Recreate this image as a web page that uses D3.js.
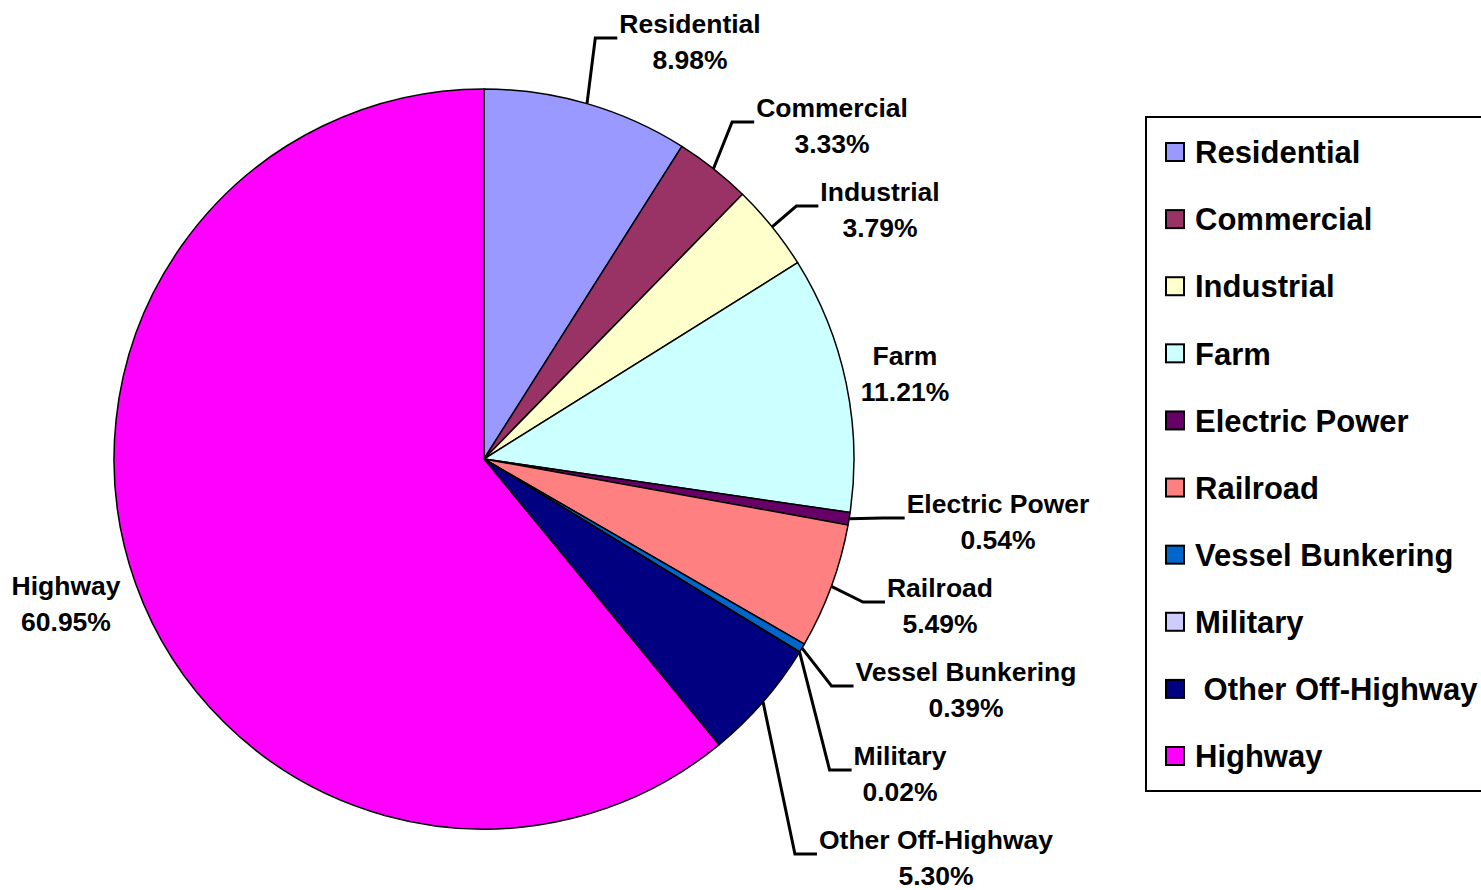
<!DOCTYPE html>
<html>
<head>
<meta charset="utf-8">
<script src="https://cdn.jsdelivr.net/npm/d3@7"></script>
<style>
  body { margin: 0; background: #fff; }
  svg { display: block; font-family: "Liberation Sans", Arial, sans-serif; font-weight: bold; }
</style>
</head>
<body>
<div id="chart"></div>
<script>
const categories = ["Residential", "Commercial", "Industrial", "Farm", "Electric Power",
  "Railroad", "Vessel Bunkering", "Military", "Other Off-Highway", "Highway"];
const shares = [8.98, 3.33, 3.79, 11.21, 0.54, 5.49, 0.39, 0.02, 5.30, 60.95];
const colors = ["#9999FF", "#993366", "#FFFFCC", "#CCFFFF", "#660066",
  "#FF8080", "#0066CC", "#CCCCFF", "#000080", "#FF00FF"];

// label placement (centre of first line), as in the original chart
const labelAt = [[690, 24], [832, 108], [880, 192], [905, 356], [998, 504],
  [940, 588], [966, 672], [900, 756], [936, 840], [66, 586]];
const hasLeader = [true, true, true, false, true, true, true, true, true, false];

const width = 1481;
const height = 890;
const cx = 484, cy = 459, radius = 370;

const svg = d3.select("#chart").append("svg")
  .attr("width", width)
  .attr("height", height);

const data = categories.map((name, i) => ({ name, value: shares[i], color: colors[i] }));

const pie = d3.pie().sort(null).value(d => d.value);
const arc = d3.arc().innerRadius(0).outerRadius(radius);
const arcs = pie(data);

const g = svg.append("g").attr("transform", `translate(${cx},${cy})`);

g.selectAll("path")
  .data(arcs)
  .join("path")
  .attr("d", arc)
  .attr("fill", d => d.data.color)
  .attr("stroke", "#000")
  .attr("stroke-width", 1.5)
  .attr("stroke-linejoin", "round");

// labels
const labels = svg.append("g");
arcs.forEach((a, i) => {
  const [lx, ly] = labelAt[i];
  const t = labels.append("text")
    .attr("text-anchor", "middle")
    .attr("font-size", 26.5)
    .attr("fill", "#000");
  const line1 = t.append("tspan").attr("x", lx).attr("y", ly).attr("dy", "0.35em").text(a.data.name);
  t.append("tspan").attr("x", lx).attr("y", ly + 36).attr("dy", "0.35em").text(a.data.value.toFixed(2) + "%");

  if (hasLeader[i]) {
    const left = lx - line1.node().getComputedTextLength() / 2;
    const mid = (a.startAngle + a.endAngle) / 2;
    const sx = cx + radius * Math.sin(mid);
    const sy = cy - radius * Math.cos(mid);
    const hy = ly + 14;
    svg.append("polyline")
      .attr("points", `${sx},${sy} ${left - 24},${hy} ${left - 2},${hy}`)
      .attr("fill", "none")
      .attr("stroke", "#000")
      .attr("stroke-width", 3);
  }
});

// legend
const legend = svg.append("g");
legend.append("rect")
  .attr("x", 1146).attr("y", 117)
  .attr("width", 345).attr("height", 674)
  .attr("fill", "#fff")
  .attr("stroke", "#000")
  .attr("stroke-width", 2);

const rowY = d3.scalePoint().domain(categories).range([152, 756]);

const item = legend.selectAll("g.item")
  .data(data)
  .join("g")
  .attr("class", "item")
  .attr("transform", d => `translate(0,${rowY(d.name)})`);

item.append("rect")
  .attr("x", 1166).attr("y", -9)
  .attr("width", 18).attr("height", 18)
  .attr("fill", d => d.color)
  .attr("stroke", "#000")
  .attr("stroke-width", 2);

item.append("text")
  .attr("x", 1195)
  .attr("dy", "0.36em")
  .attr("font-size", 31)
  .attr("xml:space", "preserve")
  .style("white-space", "pre")
  .text(d => d.name === "Other Off-Highway" ? " " + d.name : d.name);
</script>
</body>
</html>
